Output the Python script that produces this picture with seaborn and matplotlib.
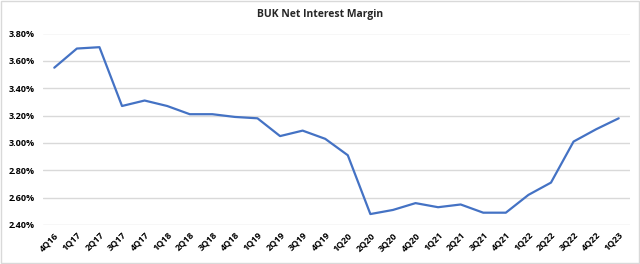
import matplotlib
matplotlib.use("Agg")
import matplotlib.pyplot as plt
import seaborn as sns
import pandas as pd
from matplotlib.ticker import FuncFormatter, MultipleLocator
from matplotlib.patches import Rectangle

quarters = ["4Q16", "1Q17", "2Q17", "3Q17", "4Q17", "1Q18", "2Q18", "3Q18", "4Q18",
            "1Q19", "2Q19", "3Q19", "4Q19", "1Q20", "2Q20", "3Q20", "4Q20", "1Q21",
            "2Q21", "3Q21", "4Q21", "1Q22", "2Q22", "3Q22", "4Q22", "1Q23"]
nim = [3.55, 3.69, 3.70, 3.27, 3.31, 3.27, 3.21, 3.21, 3.19, 3.18, 3.05, 3.09, 3.03,
       2.91, 2.48, 2.51, 2.56, 2.53, 2.55, 2.49, 2.49, 2.62, 2.71, 3.01, 3.10, 3.18]
title = "BUK Net Interest Margin"

sns.set_theme(style="white")
plt.rcParams["font.family"] = ["Open Sans", "DejaVu Sans"]

df = pd.DataFrame({"pos": range(len(quarters)), "nim": nim})

fig = plt.figure(figsize=(6.4, 2.64), dpi=100)
ax = fig.add_axes([43/640, 1-225/264, (630-43)/640, (225-33.5)/264])

sns.lineplot(data=df, x="pos", y="nim", ax=ax, color="#4472C4", linewidth=1.6, sort=False)

ax.set_xlim(-0.5, len(quarters) - 0.5)
ax.set_ylim(2.40, 3.80)
ax.yaxis.set_major_locator(MultipleLocator(0.2))
ax.yaxis.set_major_formatter(FuncFormatter(lambda v, p: f"{v:.2f}%"))
ax.set_xticks(range(len(quarters)))
ax.set_xticklabels(quarters, rotation=45, ha="right", rotation_mode="anchor")
ax.grid(axis="y", color="#D9D9D9", linewidth=1)
ax.set_axisbelow(True)
for s in ax.spines.values():
    s.set_visible(False)
ax.tick_params(axis="both", length=0, labelsize=6.5, colors="#000000")
ax.tick_params(axis="y", pad=6)
ax.tick_params(axis="x", pad=4)
for lbl in ax.get_xticklabels() + ax.get_yticklabels():
    lbl.set_fontweight("bold")
ax.set_xlabel("")
ax.set_ylabel("")

fig.text(0.5, 1-15/264, title, ha="center", va="center", fontsize=7.5, fontweight="bold")
fig.patches.append(Rectangle((0.001, 0.002), 0.997, 0.995, transform=fig.transFigure,
                             fill=False, edgecolor="#D9D9D9", linewidth=1))

fig.savefig("out.png", dpi=100)
